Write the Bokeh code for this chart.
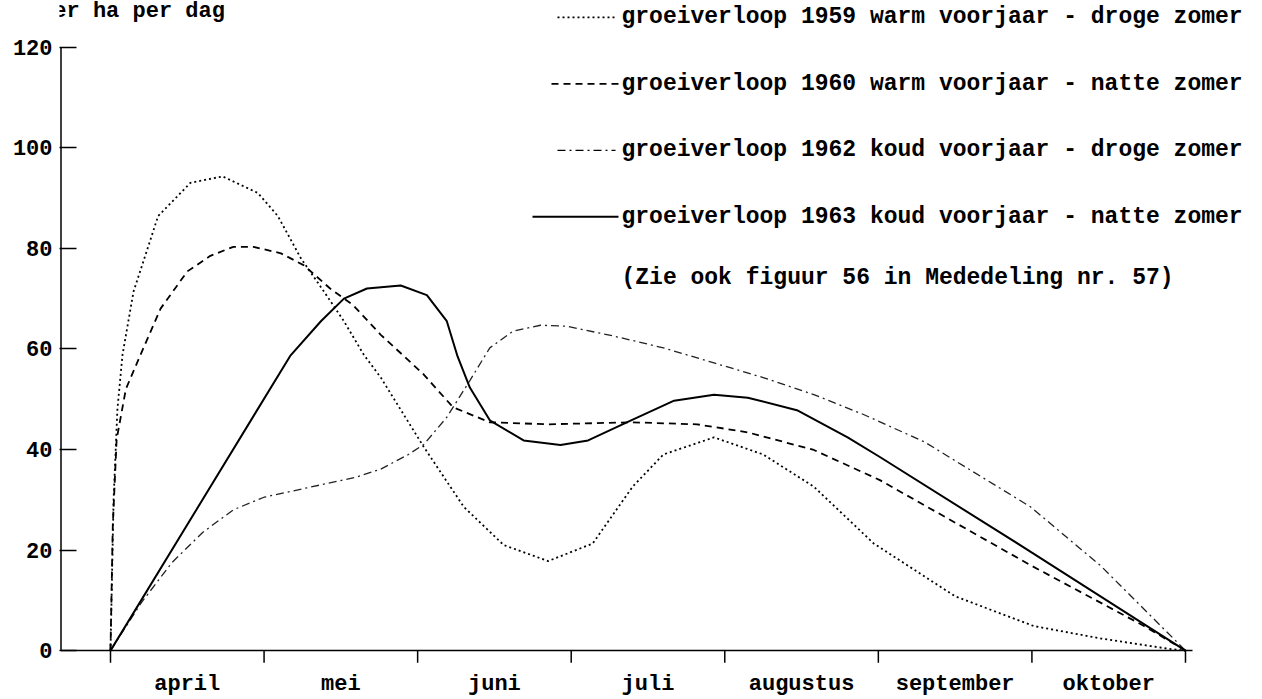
from bokeh.plotting import figure
from bokeh.models import FixedTicker, Range1d, Label
from bokeh.core.properties import value
from bokeh.embed import file_html
from bokeh.resources import INLINE

# ---------------- data ----------------
months = ["april", "mei", "juni", "juli", "augustus", "september", "oktober"]
y_ticks = [0, 20, 40, 60, 80, 100, 120]
month_bounds = [0, 1, 2, 3, 4, 5, 6, 7]  # 0 = begin april, 7 = eind oktober

# groeiverloop 1959 (warm voorjaar - droge zomer)
m1959 = [0, 0.02, 0.045, 0.078, 0.15, 0.31, 0.52, 0.73, 0.96, 1.09, 1.24, 1.39, 1.52, 1.65, 1.76,
         2.04, 2.30, 2.56, 2.85, 3.14, 3.40, 3.60, 3.93, 4.25, 4.58, 4.97, 5.5, 6.01, 6.45, 6.88, 7]
v1959 = [0, 30, 48, 58.8, 71.4, 86.4, 93, 94.3, 91, 86.4, 78, 71.4, 65.5, 58.8, 54.3,
         40.5, 28.6, 21, 17.8, 21.3, 32.6, 39, 42.4, 39, 32.6, 21.3, 10.8, 4.9, 2.4, 0.4, 0]

# groeiverloop 1960 (warm voorjaar - natte zomer)
m1960 = [0, 0.015, 0.04, 0.1, 0.195, 0.326, 0.50, 0.65, 0.80, 0.93, 1.11, 1.26, 1.43, 1.58, 1.76,
         2.04, 2.23, 2.47, 2.85, 3.39, 3.82, 4.15, 4.58, 5.01, 5.99, 6.73, 7]
v1960 = [0, 25, 42, 52, 58.8, 68, 75.4, 78.5, 80.3, 80.3, 79, 76.6, 72, 68.7, 62.8,
         54.9, 48.4, 45.4, 45, 45.4, 45, 43.4, 39.9, 33.9, 17, 4.9, 0]

# groeiverloop 1962 (koud voorjaar - droge zomer)
m1962 = [0, 0.2, 0.4, 0.6, 0.8, 1.0, 1.3, 1.6, 1.76, 1.94, 2.04, 2.19, 2.34, 2.47, 2.62, 2.8,
         2.97, 3.27, 3.60, 3.93, 4.25, 4.58, 4.90, 5.3, 5.99, 6.45, 7]
v1962 = [0, 9.5, 17.5, 23.5, 28, 30.5, 32.5, 34.5, 36.1, 39, 41, 46.4, 53.7, 60.2, 63.5, 64.7,
         64.5, 62.6, 60.2, 57.2, 54.3, 50.9, 47, 41.5, 28.6, 16.8, 0]

# groeiverloop 1963 (koud voorjaar - natte zomer)
m1963 = [0, 1.17, 1.37, 1.52, 1.67, 1.89, 2.06, 2.19, 2.26, 2.34, 2.47, 2.69, 2.93, 3.11, 3.39,
         3.67, 3.93, 4.15, 4.47, 4.80, 5.01, 6.0, 7]
v1963 = [0, 58.6, 65.5, 70, 72, 72.6, 70.7, 65.5, 58.5, 52.3, 45.8, 41.8, 40.9, 41.8, 45.8,
         49.7, 50.9, 50.3, 47.8, 42.4, 38.5, 19.5, 0]

legend_texts = [
    "groeiverloop 1959 warm voorjaar - droge zomer",
    "groeiverloop 1960 warm voorjaar - natte zomer",
    "groeiverloop 1962 koud voorjaar - droge zomer",
    "groeiverloop 1963 koud voorjaar - natte zomer",
]
note_text = "(Zie ook figuur 56 in Mededeling nr. 57)"
y_title = "kg per ha per dag"

# ---------------- layout helpers (page pixel -> data) ----------------
X0, PXM = 110.0, 153.57      # page x of month 0, pixels per month
Y0, PXV = 655.0, 5.0667      # page y of value 0, pixels per unit
FRAME_L, FRAME_B = 59, 670


def mx(px):
    return (px - X0) / PXM


def vy(py):
    return (Y0 - py) / PXV


W, H = 1262, 699
p = figure(width=W, height=H, output_backend="svg", toolbar_location=None,
           x_range=Range1d(mx(FRAME_L), mx(1262)), y_range=Range1d(vy(FRAME_B), vy(0)),
           min_border_left=FRAME_L, min_border_right=0, min_border_top=0,
           min_border_bottom=H - FRAME_B)
p.outline_line_color = None
p.xgrid.visible = False
p.ygrid.visible = False
p.background_fill_color = "white"
p.border_fill_color = "white"

FONT = value("Liberation Mono")
FS = "22px"
FS_LEG = "23px"

# y axis
p.yaxis.ticker = FixedTicker(ticks=y_ticks)
p.yaxis.axis_line_color = None
p.yaxis.major_tick_in = 17
p.yaxis.major_tick_out = 0
p.yaxis.major_tick_line_width = 1.5
p.yaxis.major_tick_line_color = "black"
p.yaxis.minor_tick_line_color = None
p.yaxis.major_label_standoff = 7
p.yaxis.major_label_text_font = "Liberation Mono"
p.yaxis.major_label_text_font_size = FS
p.yaxis.major_label_text_color = "black"
p.yaxis.major_label_text_font_style = "bold"

# x axis: month names centred in each month
p.xaxis.ticker = FixedTicker(ticks=[i + 0.5 for i in range(len(months))])
p.xaxis.major_label_overrides = {i + 0.5: mname for i, mname in enumerate(months)}
p.xaxis.axis_line_color = None
p.xaxis.major_tick_in = 0
p.xaxis.major_tick_out = 0
p.xaxis.minor_tick_line_color = None
p.xaxis.major_label_standoff = 6
p.xaxis.major_label_text_font = "Liberation Mono"
p.xaxis.major_label_text_font_size = FS
p.xaxis.major_label_text_color = "black"
p.xaxis.major_label_text_font_style = "bold"

# axis lines and month boundary ticks
p.segment(x0=[mx(60.5)], y0=[0], x1=[mx(60.5)], y1=[120], line_color="black", line_width=1.5)
p.segment(x0=[mx(60.5)], y0=[0], x1=[mx(1192)], y1=[0], line_color="black", line_width=1.5)
p.segment(x0=month_bounds, y0=[1.2] + [0] * 7, x1=month_bounds, y1=[-2.4] * 8,
          line_color="black", line_width=1.5)

# curves
p.line(m1959, v1959, line_color="black", line_width=1.8, line_dash="2 3")
p.line(m1960, v1960, line_color="black", line_width=1.8, line_dash="7 5")
p.line(m1962, v1962, line_color="#222222", line_width=1.3, line_dash="8 4 2 4")
p.line(m1963, v1963, line_color="black", line_width=2.0)

# legend
rows_y = [17, 84, 151, 218]
samples = [(557, 615, "2 3", 1.8), (551, 618, "7 5", 1.8), (557, 615, "8 4 2 4", 1.3), (532, 618, None, 2.0)]
for (xa, xb, dash, lw), ry in zip(samples, rows_y):
    kw = dict(line_color="black", line_width=lw)
    if dash:
        kw["line_dash"] = dash
    p.line([mx(xa), mx(xb)], [vy(ry), vy(ry)], **kw)

p.text(x=[mx(621)] * 5, y=[vy(r) for r in rows_y] + [vy(280)],
       text=legend_texts + [note_text],
       text_font=FONT, text_font_size=FS_LEG, text_font_style="bold", text_color="black",
       text_baseline="middle", text_align="left")

# y-axis unit title at the top-left (cut off at the page edge, as in the original)
p.add_layout(Label(x=-FRAME_L, y=FRAME_B - 16, x_units="screen", y_units="screen",
                   text=y_title, text_font="Liberation Mono",
                   text_font_size=FS, text_font_style="bold", text_color="black",
                   text_baseline="alphabetic", text_align="left"))

open("out.html", "w").write(file_html(p, INLINE))
